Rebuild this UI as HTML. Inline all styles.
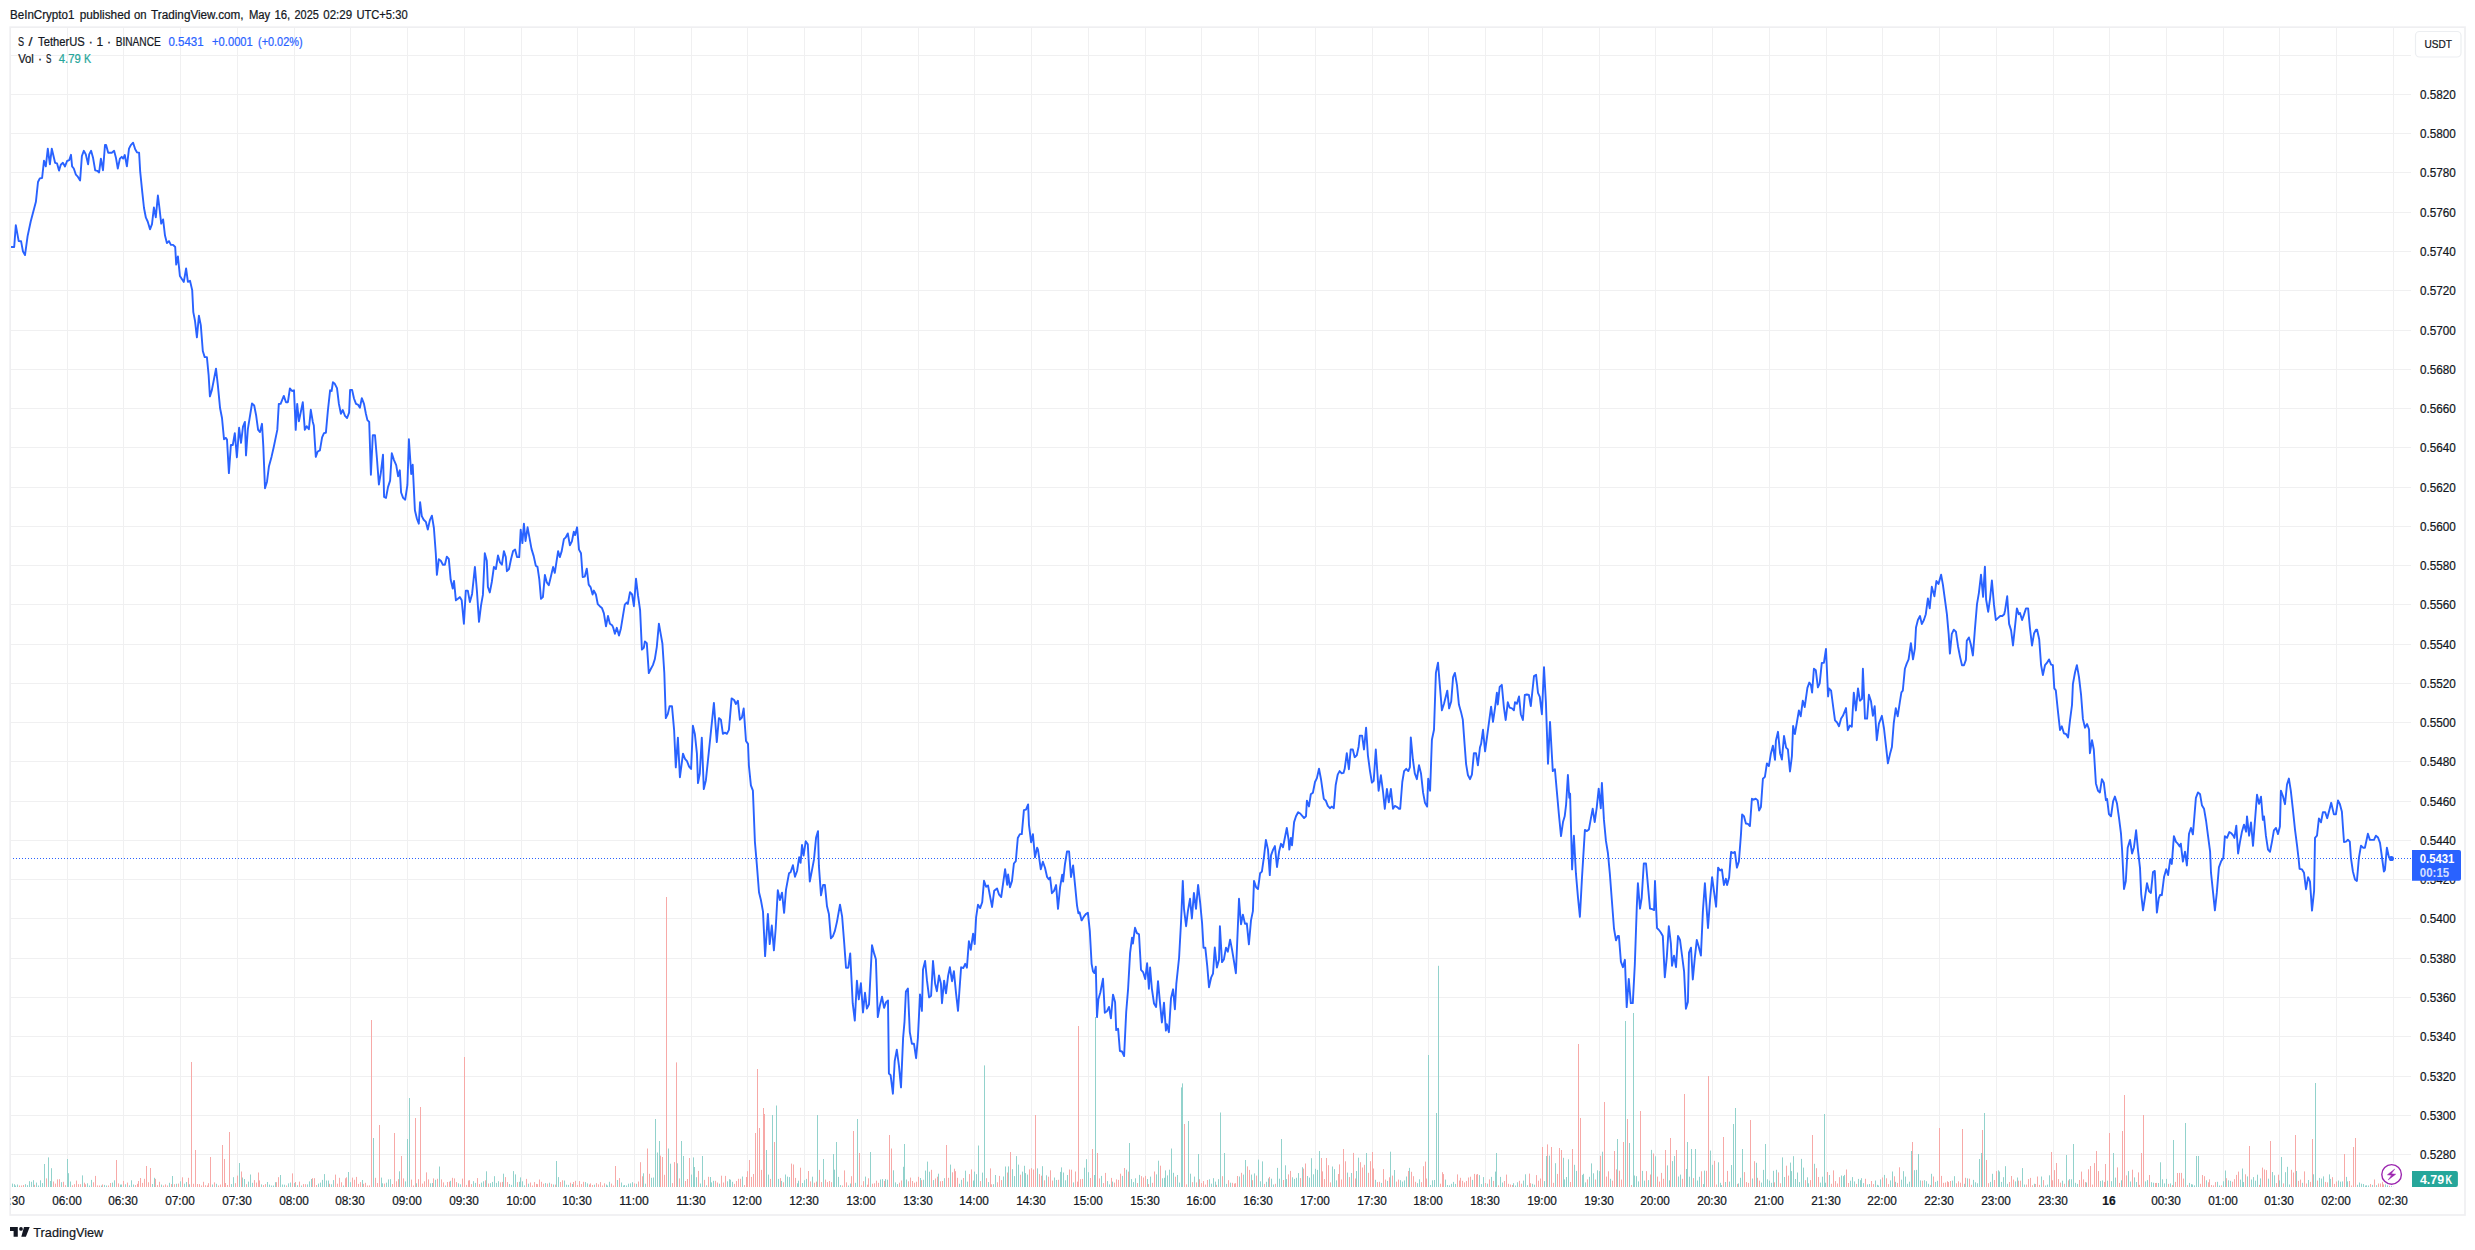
<!DOCTYPE html>
<html lang="en"><head><meta charset="utf-8"><title>S / TetherUS chart</title>
<style>html,body{margin:0;padding:0;background:#fff}body{width:2475px;height:1250px;overflow:hidden}svg{display:block}text{stroke:#131722;stroke-width:.22px}.b{stroke:#2962ff}.t{stroke:#26a69a}.w{stroke:none}</style>
</head><body>
<svg width="2475" height="1250" viewBox="0 0 2475 1250" font-family="&quot;Liberation Sans&quot;, sans-serif" font-size="12" fill="#131722">
<rect width="2475" height="1250" fill="#fff"/>
<text y="19"><tspan x="10" textLength="64.4" lengthAdjust="spacingAndGlyphs">BeInCrypto1</tspan> <tspan x="79.7" textLength="50.6" lengthAdjust="spacingAndGlyphs">published</tspan> <tspan x="134" textLength="12.6" lengthAdjust="spacingAndGlyphs">on</tspan> <tspan x="151.1" textLength="92.5" lengthAdjust="spacingAndGlyphs">TradingView.com,</tspan> <tspan x="248.9" textLength="21.3" lengthAdjust="spacingAndGlyphs">May</tspan> <tspan x="274.4" textLength="15.8" lengthAdjust="spacingAndGlyphs">16,</tspan> <tspan x="294.5" textLength="24.3" lengthAdjust="spacingAndGlyphs">2025</tspan> <tspan x="323.3" textLength="28.8" lengthAdjust="spacingAndGlyphs">02:29</tspan> <tspan x="356.4" textLength="51.2" lengthAdjust="spacingAndGlyphs">UTC+5:30</tspan></text>
<path d="M67.5 28V1187M123.5 28V1187M180.5 28V1187M237.5 28V1187M294.5 28V1187M350.5 28V1187M407.5 28V1187M464.5 28V1187M521.5 28V1187M577.5 28V1187M634.5 28V1187M691.5 28V1187M747.5 28V1187M804.5 28V1187M861.5 28V1187M918.5 28V1187M974.5 28V1187M1031.5 28V1187M1088.5 28V1187M1145.5 28V1187M1201.5 28V1187M1258.5 28V1187M1315.5 28V1187M1372.5 28V1187M1428.5 28V1187M1485.5 28V1187M1542.5 28V1187M1599.5 28V1187M1655.5 28V1187M1712.5 28V1187M1769.5 28V1187M1826.5 28V1187M1882.5 28V1187M1939.5 28V1187M1996.5 28V1187M2053.5 28V1187M2109.5 28V1187M2166.5 28V1187M2223.5 28V1187M2279.5 28V1187M2336.5 28V1187M2393.5 28V1187M11 55.5H2411M11 94.5H2411M11 133.5H2411M11 172.5H2411M11 212.5H2411M11 251.5H2411M11 290.5H2411M11 330.5H2411M11 369.5H2411M11 408.5H2411M11 447.5H2411M11 487.5H2411M11 526.5H2411M11 565.5H2411M11 604.5H2411M11 644.5H2411M11 683.5H2411M11 722.5H2411M11 761.5H2411M11 801.5H2411M11 840.5H2411M11 879.5H2411M11 918.5H2411M11 958.5H2411M11 997.5H2411M11 1036.5H2411M11 1076.5H2411M11 1115.5H2411M11 1154.5H2411" stroke="#f0f0f1" stroke-width="1" fill="none" shape-rendering="crispEdges"/>
<path d="M12.5 1187V1183.6M14.5 1187V1184.2M15.5 1187V1185.5M17.5 1187V1184.5M25.5 1187V1184.2M27.5 1187V1185.2M29.5 1187V1181.2M31.5 1187V1181.8M33.5 1187V1180.2M36.5 1187V1182.6M38.5 1187V1185.5M40.5 1187V1180.3M42.5 1187V1183.1M44.5 1187V1164.0M48.5 1187V1157.4M50.5 1187V1181.0M51.5 1187V1168.2M61.5 1187V1182.2M67.5 1187V1159.0M68.5 1187V1173.2M70.5 1187V1181.5M82.5 1187V1175.4M87.5 1187V1183.3M89.5 1187V1185.5M91.5 1187V1179.9M101.5 1187V1185.5M104.5 1187V1184.9M106.5 1187V1185.5M112.5 1187V1182.6M114.5 1187V1180.3M120.5 1187V1184.6M121.5 1187V1184.5M125.5 1187V1184.3M129.5 1187V1185.4M131.5 1187V1180.3M133.5 1187V1184.5M152.5 1187V1184.0M154.5 1187V1177.8M161.5 1187V1184.6M169.5 1187V1182.8M172.5 1187V1176.0M176.5 1187V1183.8M180.5 1187V1181.3M184.5 1187V1183.7M186.5 1187V1182.0M189.5 1187V1184.3M212.5 1187V1184.5M216.5 1187V1183.8M231.5 1187V1184.1M233.5 1187V1177.2M239.5 1187V1163.0M242.5 1187V1177.5M244.5 1187V1179.0M248.5 1187V1181.6M250.5 1187V1174.5M252.5 1187V1182.8M261.5 1187V1184.4M267.5 1187V1182.0M269.5 1187V1184.6M271.5 1187V1185.5M273.5 1187V1185.5M275.5 1187V1182.2M280.5 1187V1175.0M282.5 1187V1184.5M284.5 1187V1184.7M288.5 1187V1183.4M290.5 1187V1182.5M294.5 1187V1183.1M297.5 1187V1185.2M301.5 1187V1185.5M307.5 1187V1184.4M309.5 1187V1181.4M311.5 1187V1179.0M318.5 1187V1183.6M320.5 1187V1182.6M322.5 1187V1179.9M324.5 1187V1174.1M326.5 1187V1180.5M328.5 1187V1180.5M331.5 1187V1184.3M333.5 1187V1180.1M343.5 1187V1185.5M348.5 1187V1172.0M350.5 1187V1182.2M362.5 1187V1180.0M373.5 1187V1138.0M381.5 1187V1177.6M382.5 1187V1183.3M386.5 1187V1182.7M388.5 1187V1179.4M390.5 1187V1179.2M399.5 1187V1171.3M405.5 1187V1181.4M407.5 1187V1139.0M409.5 1187V1098.0M416.5 1187V1183.3M430.5 1187V1183.3M432.5 1187V1183.0M435.5 1187V1179.8M439.5 1187V1166.5M445.5 1187V1185.5M450.5 1187V1180.8M458.5 1187V1183.3M460.5 1187V1184.3M473.5 1187V1181.2M475.5 1187V1182.9M481.5 1187V1182.6M483.5 1187V1181.3M486.5 1187V1171.3M490.5 1187V1183.2M492.5 1187V1181.9M494.5 1187V1176.2M496.5 1187V1182.9M498.5 1187V1181.2M503.5 1187V1173.7M509.5 1187V1184.0M511.5 1187V1184.9M513.5 1187V1171.1M515.5 1187V1174.4M519.5 1187V1181.8M520.5 1187V1177.4M522.5 1187V1181.3M524.5 1187V1185.4M528.5 1187V1183.7M545.5 1187V1183.1M549.5 1187V1182.7M553.5 1187V1184.5M556.5 1187V1161.0M558.5 1187V1177.1M564.5 1187V1180.5M566.5 1187V1184.7M568.5 1187V1184.9M572.5 1187V1184.0M585.5 1187V1182.1M587.5 1187V1183.4M594.5 1187V1184.7M606.5 1187V1184.5M607.5 1187V1185.5M609.5 1187V1181.8M617.5 1187V1180.0M621.5 1187V1182.5M623.5 1187V1185.5M624.5 1187V1185.0M626.5 1187V1185.5M628.5 1187V1183.7M630.5 1187V1183.4M632.5 1187V1182.2M636.5 1187V1183.8M643.5 1187V1173.3M645.5 1187V1183.7M651.5 1187V1177.8M653.5 1187V1177.5M655.5 1187V1119.0M657.5 1187V1152.5M659.5 1187V1141.0M668.5 1187V1148.5M670.5 1187V1163.7M677.5 1187V1163.3M681.5 1187V1141.0M683.5 1187V1156.0M691.5 1187V1174.6M693.5 1187V1157.4M694.5 1187V1167.0M696.5 1187V1177.2M700.5 1187V1183.5M702.5 1187V1156.0M706.5 1187V1185.3M710.5 1187V1177.0M711.5 1187V1182.4M713.5 1187V1180.8M719.5 1187V1183.7M727.5 1187V1181.3M729.5 1187V1179.2M730.5 1187V1179.7M732.5 1187V1181.8M742.5 1187V1176.5M766.5 1187V1150.0M768.5 1187V1174.6M772.5 1187V1115.0M776.5 1187V1105.5M778.5 1187V1178.9M781.5 1187V1180.9M785.5 1187V1174.5M787.5 1187V1176.6M789.5 1187V1177.1M797.5 1187V1183.3M798.5 1187V1180.7M802.5 1187V1183.0M804.5 1187V1180.2M806.5 1187V1178.9M812.5 1187V1176.7M817.5 1187V1115.0M823.5 1187V1159.0M833.5 1187V1154.0M834.5 1187V1169.7M836.5 1187V1142.0M838.5 1187V1176.9M840.5 1187V1185.1M848.5 1187V1185.5M850.5 1187V1183.5M855.5 1187V1182.8M857.5 1187V1119.0M865.5 1187V1176.6M870.5 1187V1152.0M880.5 1187V1179.5M882.5 1187V1179.1M885.5 1187V1179.1M887.5 1187V1179.7M893.5 1187V1170.3M895.5 1187V1182.4M897.5 1187V1184.1M903.5 1187V1166.8M904.5 1187V1144.0M906.5 1187V1179.5M920.5 1187V1178.0M923.5 1187V1179.8M925.5 1187V1170.6M927.5 1187V1161.6M929.5 1187V1171.7M933.5 1187V1180.1M938.5 1187V1173.7M944.5 1187V1178.2M950.5 1187V1164.6M959.5 1187V1183.8M961.5 1187V1179.8M965.5 1187V1170.7M967.5 1187V1181.6M973.5 1187V1180.5M974.5 1187V1171.6M976.5 1187V1174.2M978.5 1187V1145.5M982.5 1187V1172.6M984.5 1187V1065.4M988.5 1187V1182.1M993.5 1187V1184.2M995.5 1187V1175.0M1003.5 1187V1176.5M1005.5 1187V1166.5M1008.5 1187V1166.4M1012.5 1187V1169.2M1014.5 1187V1176.1M1016.5 1187V1156.1M1018.5 1187V1164.6M1022.5 1187V1171.6M1024.5 1187V1165.8M1025.5 1187V1173.1M1027.5 1187V1174.6M1037.5 1187V1168.4M1042.5 1187V1166.2M1046.5 1187V1175.3M1054.5 1187V1177.5M1056.5 1187V1180.0M1060.5 1187V1171.9M1061.5 1187V1167.4M1063.5 1187V1172.5M1065.5 1187V1180.3M1067.5 1187V1175.0M1073.5 1187V1182.4M1084.5 1187V1167.7M1086.5 1187V1159.2M1088.5 1187V1172.2M1094.5 1187V1175.0M1095.5 1187V1017.0M1101.5 1187V1175.9M1107.5 1187V1181.1M1109.5 1187V1184.4M1112.5 1187V1181.6M1122.5 1187V1175.9M1126.5 1187V1169.7M1129.5 1187V1143.0M1131.5 1187V1179.1M1133.5 1187V1182.1M1135.5 1187V1178.3M1139.5 1187V1174.9M1147.5 1187V1179.0M1150.5 1187V1176.6M1156.5 1187V1174.4M1158.5 1187V1160.7M1162.5 1187V1178.3M1164.5 1187V1177.8M1165.5 1187V1170.4M1167.5 1187V1175.4M1169.5 1187V1169.7M1171.5 1187V1148.5M1173.5 1187V1172.8M1177.5 1187V1175.0M1179.5 1187V1182.6M1181.5 1187V1087.4M1182.5 1187V1083.4M1188.5 1187V1121.0M1190.5 1187V1173.7M1194.5 1187V1176.6M1198.5 1187V1154.0M1209.5 1187V1179.3M1211.5 1187V1183.7M1213.5 1187V1178.2M1215.5 1187V1181.6M1218.5 1187V1179.2M1220.5 1187V1112.5M1224.5 1187V1153.0M1226.5 1187V1183.9M1230.5 1187V1182.7M1239.5 1187V1176.5M1243.5 1187V1174.6M1245.5 1187V1160.0M1251.5 1187V1174.6M1254.5 1187V1173.4M1258.5 1187V1159.6M1260.5 1187V1181.3M1262.5 1187V1161.4M1266.5 1187V1181.8M1268.5 1187V1178.4M1271.5 1187V1178.7M1273.5 1187V1184.5M1277.5 1187V1167.9M1279.5 1187V1178.7M1281.5 1187V1139.0M1285.5 1187V1165.3M1286.5 1187V1179.1M1292.5 1187V1177.3M1294.5 1187V1178.9M1296.5 1187V1177.8M1298.5 1187V1173.1M1302.5 1187V1167.2M1307.5 1187V1176.0M1309.5 1187V1177.6M1311.5 1187V1158.2M1313.5 1187V1174.3M1315.5 1187V1168.8M1317.5 1187V1169.9M1319.5 1187V1151.0M1332.5 1187V1166.5M1334.5 1187V1169.1M1336.5 1187V1180.4M1347.5 1187V1172.6M1351.5 1187V1173.0M1356.5 1187V1171.0M1358.5 1187V1157.7M1366.5 1187V1153.0M1375.5 1187V1179.8M1381.5 1187V1182.9M1387.5 1187V1180.9M1390.5 1187V1151.7M1394.5 1187V1170.0M1400.5 1187V1180.2M1402.5 1187V1181.6M1404.5 1187V1180.4M1406.5 1187V1176.5M1409.5 1187V1167.9M1417.5 1187V1183.2M1419.5 1187V1179.3M1428.5 1187V1055.0M1430.5 1187V1185.0M1432.5 1187V1180.3M1434.5 1187V1180.0M1436.5 1187V1113.0M1438.5 1187V965.8M1445.5 1187V1179.6M1447.5 1187V1185.0M1449.5 1187V1185.4M1451.5 1187V1183.8M1453.5 1187V1181.9M1455.5 1187V1183.9M1472.5 1187V1179.9M1479.5 1187V1175.1M1481.5 1187V1184.1M1483.5 1187V1177.1M1487.5 1187V1183.7M1491.5 1187V1176.9M1495.5 1187V1171.6M1496.5 1187V1153.0M1500.5 1187V1176.9M1502.5 1187V1182.5M1513.5 1187V1183.2M1515.5 1187V1185.5M1517.5 1187V1182.3M1523.5 1187V1180.6M1525.5 1187V1174.3M1527.5 1187V1185.2M1532.5 1187V1183.8M1534.5 1187V1184.7M1544.5 1187V1181.1M1546.5 1187V1156.0M1549.5 1187V1155.6M1555.5 1187V1163.2M1563.5 1187V1157.8M1564.5 1187V1179.4M1566.5 1187V1177.0M1568.5 1187V1159.3M1574.5 1187V1164.8M1576.5 1187V1170.9M1582.5 1187V1174.9M1583.5 1187V1173.8M1585.5 1187V1182.4M1589.5 1187V1176.8M1591.5 1187V1163.4M1593.5 1187V1173.3M1597.5 1187V1170.3M1599.5 1187V1171.1M1602.5 1187V1151.7M1610.5 1187V1178.8M1617.5 1187V1139.0M1625.5 1187V1021.0M1629.5 1187V1143.0M1633.5 1187V1013.0M1634.5 1187V1175.5M1636.5 1187V1176.2M1638.5 1187V1181.4M1642.5 1187V1170.9M1644.5 1187V1180.6M1648.5 1187V1180.1M1651.5 1187V1149.9M1655.5 1187V1156.3M1667.5 1187V1165.4M1669.5 1187V1180.3M1672.5 1187V1161.1M1674.5 1187V1156.0M1678.5 1187V1176.5M1680.5 1187V1174.6M1686.5 1187V1169.0M1687.5 1187V1142.0M1689.5 1187V1176.7M1691.5 1187V1149.0M1695.5 1187V1149.0M1697.5 1187V1180.5M1699.5 1187V1176.8M1703.5 1187V1184.1M1704.5 1187V1170.6M1710.5 1187V1150.6M1712.5 1187V1164.8M1718.5 1187V1162.3M1720.5 1187V1182.8M1721.5 1187V1185.1M1725.5 1187V1182.0M1729.5 1187V1181.6M1731.5 1187V1165.0M1733.5 1187V1124.0M1735.5 1187V1108.0M1738.5 1187V1183.4M1740.5 1187V1177.8M1742.5 1187V1149.0M1752.5 1187V1178.5M1756.5 1187V1162.8M1761.5 1187V1182.6M1763.5 1187V1169.9M1765.5 1187V1144.0M1767.5 1187V1179.3M1769.5 1187V1180.6M1771.5 1187V1182.8M1773.5 1187V1170.8M1776.5 1187V1169.8M1782.5 1187V1157.4M1784.5 1187V1177.0M1790.5 1187V1162.6M1791.5 1187V1171.1M1793.5 1187V1156.2M1795.5 1187V1179.0M1797.5 1187V1172.5M1799.5 1187V1182.1M1801.5 1187V1158.9M1803.5 1187V1167.6M1807.5 1187V1177.3M1808.5 1187V1183.3M1814.5 1187V1163.8M1820.5 1187V1182.6M1822.5 1187V1176.7M1824.5 1187V1114.0M1825.5 1187V1182.7M1829.5 1187V1175.0M1841.5 1187V1175.5M1843.5 1187V1176.1M1844.5 1187V1174.9M1850.5 1187V1180.7M1852.5 1187V1177.1M1854.5 1187V1181.4M1858.5 1187V1178.9M1860.5 1187V1180.2M1861.5 1187V1178.2M1863.5 1187V1183.1M1867.5 1187V1184.4M1869.5 1187V1184.0M1875.5 1187V1180.5M1877.5 1187V1184.8M1878.5 1187V1185.5M1880.5 1187V1179.4M1884.5 1187V1174.9M1890.5 1187V1180.4M1892.5 1187V1171.5M1895.5 1187V1181.8M1901.5 1187V1179.7M1903.5 1187V1171.2M1905.5 1187V1176.6M1907.5 1187V1183.8M1909.5 1187V1181.7M1911.5 1187V1151.0M1914.5 1187V1170.2M1916.5 1187V1169.9M1918.5 1187V1154.0M1920.5 1187V1180.4M1924.5 1187V1180.2M1926.5 1187V1181.2M1928.5 1187V1183.8M1931.5 1187V1173.8M1935.5 1187V1181.9M1937.5 1187V1180.8M1952.5 1187V1180.6M1954.5 1187V1176.2M1964.5 1187V1183.8M1967.5 1187V1178.4M1973.5 1187V1179.9M1975.5 1187V1182.3M1977.5 1187V1183.3M1979.5 1187V1159.0M1981.5 1187V1153.0M1984.5 1187V1113.0M1990.5 1187V1181.9M1992.5 1187V1173.8M1998.5 1187V1170.3M1999.5 1187V1171.5M2001.5 1187V1181.9M2003.5 1187V1177.2M2005.5 1187V1166.2M2007.5 1187V1183.8M2015.5 1187V1181.4M2017.5 1187V1177.5M2022.5 1187V1168.1M2024.5 1187V1184.5M2034.5 1187V1183.7M2041.5 1187V1176.5M2045.5 1187V1185.5M2047.5 1187V1184.6M2049.5 1187V1175.3M2062.5 1187V1180.7M2066.5 1187V1155.0M2069.5 1187V1179.1M2071.5 1187V1179.3M2073.5 1187V1144.0M2075.5 1187V1182.8M2077.5 1187V1183.9M2086.5 1187V1182.5M2100.5 1187V1180.9M2102.5 1187V1180.4M2107.5 1187V1180.7M2111.5 1187V1181.2M2113.5 1187V1153.0M2115.5 1187V1177.6M2121.5 1187V1180.3M2128.5 1187V1171.1M2130.5 1187V1181.5M2134.5 1187V1177.4M2136.5 1187V1182.0M2145.5 1187V1181.4M2147.5 1187V1180.1M2151.5 1187V1182.2M2153.5 1187V1182.7M2158.5 1187V1183.0M2160.5 1187V1162.3M2162.5 1187V1179.3M2164.5 1187V1183.4M2166.5 1187V1178.9M2170.5 1187V1183.4M2173.5 1187V1140.0M2185.5 1187V1123.0M2189.5 1187V1182.9M2191.5 1187V1184.2M2192.5 1187V1184.5M2194.5 1187V1185.4M2196.5 1187V1156.0M2198.5 1187V1156.0M2206.5 1187V1180.3M2217.5 1187V1181.8M2219.5 1187V1185.5M2223.5 1187V1181.3M2225.5 1187V1170.5M2228.5 1187V1180.3M2230.5 1187V1180.8M2240.5 1187V1179.6M2242.5 1187V1168.5M2243.5 1187V1182.0M2247.5 1187V1176.4M2251.5 1187V1179.5M2253.5 1187V1177.1M2255.5 1187V1180.7M2257.5 1187V1174.7M2260.5 1187V1178.4M2268.5 1187V1178.7M2272.5 1187V1172.0M2274.5 1187V1175.3M2279.5 1187V1180.4M2281.5 1187V1157.0M2285.5 1187V1172.2M2287.5 1187V1166.8M2289.5 1187V1184.5M2296.5 1187V1171.0M2302.5 1187V1182.8M2308.5 1187V1180.0M2313.5 1187V1174.3M2315.5 1187V1083.0M2319.5 1187V1177.9M2321.5 1187V1178.6M2323.5 1187V1176.4M2329.5 1187V1174.4M2330.5 1187V1178.9M2338.5 1187V1180.5M2340.5 1187V1181.7M2342.5 1187V1181.4M2346.5 1187V1176.9M2347.5 1187V1181.4M2357.5 1187V1184.8M2359.5 1187V1182.5M2361.5 1187V1183.7M2363.5 1187V1184.0M2365.5 1187V1185.5M2366.5 1187V1185.3M2368.5 1187V1185.5M2372.5 1187V1184.9M2376.5 1187V1185.2M2385.5 1187V1179.9M2387.5 1187V1183.4M2391.5 1187V1185.0" stroke="#92d2cc" stroke-width="1" fill="none"/>
<path d="M19.5 1187V1185.5M21.5 1187V1185.5M23.5 1187V1185.0M34.5 1187V1184.8M46.5 1187V1178.4M53.5 1187V1181.5M55.5 1187V1183.6M57.5 1187V1179.4M59.5 1187V1179.2M63.5 1187V1181.8M65.5 1187V1185.2M72.5 1187V1185.3M74.5 1187V1184.2M76.5 1187V1180.6M78.5 1187V1184.2M80.5 1187V1184.2M84.5 1187V1182.7M85.5 1187V1184.3M93.5 1187V1182.3M95.5 1187V1175.9M97.5 1187V1185.4M99.5 1187V1185.5M102.5 1187V1184.4M108.5 1187V1185.5M110.5 1187V1183.0M116.5 1187V1160.0M118.5 1187V1183.4M123.5 1187V1180.9M127.5 1187V1182.6M135.5 1187V1185.0M137.5 1187V1183.8M138.5 1187V1181.0M140.5 1187V1178.0M142.5 1187V1182.9M144.5 1187V1178.8M146.5 1187V1166.0M148.5 1187V1182.3M150.5 1187V1168.0M155.5 1187V1178.9M157.5 1187V1185.1M159.5 1187V1181.8M163.5 1187V1185.5M165.5 1187V1184.4M167.5 1187V1185.5M171.5 1187V1184.1M174.5 1187V1184.2M178.5 1187V1183.6M182.5 1187V1177.3M188.5 1187V1177.8M191.5 1187V1062.0M193.5 1187V1183.8M195.5 1187V1150.0M197.5 1187V1184.0M199.5 1187V1184.1M201.5 1187V1185.5M203.5 1187V1181.8M205.5 1187V1185.2M207.5 1187V1185.5M208.5 1187V1183.2M210.5 1187V1157.0M214.5 1187V1182.4M218.5 1187V1185.5M220.5 1187V1184.5M222.5 1187V1145.0M224.5 1187V1159.0M225.5 1187V1183.0M227.5 1187V1185.0M229.5 1187V1132.0M235.5 1187V1183.2M237.5 1187V1175.6M241.5 1187V1171.5M246.5 1187V1184.2M254.5 1187V1180.1M256.5 1187V1182.6M258.5 1187V1172.5M259.5 1187V1180.4M263.5 1187V1185.1M265.5 1187V1184.1M276.5 1187V1182.2M278.5 1187V1177.2M286.5 1187V1185.5M292.5 1187V1173.4M295.5 1187V1182.0M299.5 1187V1181.6M303.5 1187V1184.1M305.5 1187V1184.2M312.5 1187V1178.2M314.5 1187V1178.2M316.5 1187V1185.0M329.5 1187V1183.8M335.5 1187V1174.6M337.5 1187V1183.7M339.5 1187V1177.8M341.5 1187V1182.3M345.5 1187V1178.3M346.5 1187V1177.3M352.5 1187V1177.6M354.5 1187V1179.8M356.5 1187V1176.9M358.5 1187V1183.9M360.5 1187V1182.1M363.5 1187V1183.8M365.5 1187V1182.8M367.5 1187V1185.5M369.5 1187V1185.4M371.5 1187V1020.0M375.5 1187V1177.8M377.5 1187V1183.0M379.5 1187V1125.0M384.5 1187V1183.6M392.5 1187V1184.0M394.5 1187V1133.0M396.5 1187V1181.3M398.5 1187V1179.2M401.5 1187V1156.0M403.5 1187V1178.4M411.5 1187V1179.6M413.5 1187V1185.5M415.5 1187V1118.0M418.5 1187V1179.2M420.5 1187V1107.0M422.5 1187V1183.6M424.5 1187V1181.3M426.5 1187V1172.4M428.5 1187V1179.4M433.5 1187V1178.4M437.5 1187V1178.8M441.5 1187V1179.4M443.5 1187V1182.4M447.5 1187V1182.0M449.5 1187V1181.7M452.5 1187V1177.8M454.5 1187V1178.4M456.5 1187V1182.1M462.5 1187V1178.6M464.5 1187V1057.0M466.5 1187V1184.9M468.5 1187V1180.5M469.5 1187V1180.2M471.5 1187V1184.1M477.5 1187V1178.1M479.5 1187V1184.1M485.5 1187V1180.3M488.5 1187V1183.5M500.5 1187V1182.4M502.5 1187V1181.9M505.5 1187V1177.1M507.5 1187V1182.1M517.5 1187V1182.2M526.5 1187V1178.9M530.5 1187V1182.5M532.5 1187V1185.5M534.5 1187V1182.1M536.5 1187V1183.9M537.5 1187V1184.2M539.5 1187V1179.5M541.5 1187V1181.8M543.5 1187V1183.7M547.5 1187V1183.6M551.5 1187V1183.8M555.5 1187V1184.6M560.5 1187V1182.0M562.5 1187V1180.3M570.5 1187V1182.7M573.5 1187V1182.0M575.5 1187V1180.8M577.5 1187V1185.0M579.5 1187V1181.1M581.5 1187V1184.1M583.5 1187V1181.8M589.5 1187V1184.5M590.5 1187V1183.4M592.5 1187V1185.0M596.5 1187V1183.1M598.5 1187V1184.4M600.5 1187V1182.1M602.5 1187V1185.5M604.5 1187V1183.3M611.5 1187V1183.6M613.5 1187V1185.5M615.5 1187V1166.0M619.5 1187V1178.1M634.5 1187V1183.4M638.5 1187V1181.5M640.5 1187V1162.2M642.5 1187V1176.3M647.5 1187V1148.5M649.5 1187V1173.8M660.5 1187V1155.6M662.5 1187V1157.0M664.5 1187V1174.8M666.5 1187V897.0M672.5 1187V1183.1M674.5 1187V1162.1M676.5 1187V1062.4M679.5 1187V1178.4M685.5 1187V1181.0M687.5 1187V1179.0M689.5 1187V1158.0M698.5 1187V1170.9M704.5 1187V1179.9M708.5 1187V1176.8M715.5 1187V1180.8M717.5 1187V1182.5M721.5 1187V1175.7M723.5 1187V1182.5M725.5 1187V1175.9M734.5 1187V1183.9M736.5 1187V1181.0M738.5 1187V1178.8M740.5 1187V1178.8M744.5 1187V1185.1M746.5 1187V1177.0M747.5 1187V1171.2M749.5 1187V1160.0M751.5 1187V1176.9M753.5 1187V1174.0M755.5 1187V1133.0M757.5 1187V1069.0M759.5 1187V1128.0M761.5 1187V1169.9M763.5 1187V1108.0M764.5 1187V1114.0M770.5 1187V1178.9M774.5 1187V1142.0M780.5 1187V1178.1M783.5 1187V1182.3M791.5 1187V1163.6M793.5 1187V1164.5M795.5 1187V1177.9M800.5 1187V1167.7M808.5 1187V1171.0M810.5 1187V1181.4M814.5 1187V1182.7M816.5 1187V1181.6M819.5 1187V1169.9M821.5 1187V1182.1M825.5 1187V1179.6M827.5 1187V1182.1M829.5 1187V1181.0M831.5 1187V1182.2M842.5 1187V1185.5M844.5 1187V1170.4M846.5 1187V1182.4M851.5 1187V1176.2M853.5 1187V1131.0M859.5 1187V1153.0M861.5 1187V1185.3M863.5 1187V1181.2M867.5 1187V1184.7M868.5 1187V1178.3M872.5 1187V1183.7M874.5 1187V1183.3M876.5 1187V1180.7M878.5 1187V1182.8M884.5 1187V1180.9M889.5 1187V1135.0M891.5 1187V1148.5M899.5 1187V1182.7M901.5 1187V1180.5M908.5 1187V1181.3M910.5 1187V1177.6M912.5 1187V1181.0M914.5 1187V1182.7M916.5 1187V1181.7M918.5 1187V1176.8M921.5 1187V1180.2M931.5 1187V1169.8M935.5 1187V1178.5M937.5 1187V1176.7M940.5 1187V1181.3M942.5 1187V1181.0M946.5 1187V1145.0M948.5 1187V1177.8M952.5 1187V1172.3M954.5 1187V1168.7M955.5 1187V1171.2M957.5 1187V1177.8M963.5 1187V1178.0M969.5 1187V1174.1M971.5 1187V1169.4M980.5 1187V1181.1M986.5 1187V1178.2M990.5 1187V1168.4M991.5 1187V1184.3M997.5 1187V1182.3M999.5 1187V1175.9M1001.5 1187V1180.1M1007.5 1187V1172.5M1010.5 1187V1152.0M1020.5 1187V1174.7M1029.5 1187V1169.4M1031.5 1187V1168.2M1033.5 1187V1169.5M1035.5 1187V1115.0M1039.5 1187V1174.1M1041.5 1187V1175.7M1044.5 1187V1180.3M1048.5 1187V1176.7M1050.5 1187V1170.3M1052.5 1187V1180.6M1058.5 1187V1179.8M1069.5 1187V1169.5M1071.5 1187V1169.7M1075.5 1187V1171.5M1077.5 1187V1181.6M1078.5 1187V1026.0M1080.5 1187V1179.2M1082.5 1187V1178.9M1090.5 1187V1178.0M1092.5 1187V1149.0M1097.5 1187V1153.0M1099.5 1187V1178.4M1103.5 1187V1183.1M1105.5 1187V1172.9M1111.5 1187V1177.9M1114.5 1187V1182.6M1116.5 1187V1179.4M1118.5 1187V1179.9M1120.5 1187V1173.7M1124.5 1187V1168.0M1128.5 1187V1171.6M1137.5 1187V1183.0M1141.5 1187V1176.1M1143.5 1187V1177.5M1145.5 1187V1175.9M1148.5 1187V1184.1M1152.5 1187V1182.8M1154.5 1187V1171.5M1160.5 1187V1165.7M1175.5 1187V1176.7M1184.5 1187V1124.0M1186.5 1187V1184.4M1192.5 1187V1182.2M1196.5 1187V1182.4M1199.5 1187V1179.2M1201.5 1187V1183.1M1203.5 1187V1181.1M1205.5 1187V1184.6M1207.5 1187V1180.0M1216.5 1187V1184.8M1222.5 1187V1176.2M1228.5 1187V1180.2M1232.5 1187V1182.8M1234.5 1187V1183.6M1235.5 1187V1183.2M1237.5 1187V1176.0M1241.5 1187V1172.8M1247.5 1187V1166.4M1249.5 1187V1169.9M1252.5 1187V1180.2M1256.5 1187V1175.6M1264.5 1187V1183.9M1269.5 1187V1176.9M1275.5 1187V1183.8M1283.5 1187V1180.0M1288.5 1187V1174.4M1290.5 1187V1170.9M1300.5 1187V1178.1M1303.5 1187V1168.6M1305.5 1187V1163.5M1321.5 1187V1158.0M1322.5 1187V1171.4M1324.5 1187V1179.1M1326.5 1187V1158.0M1328.5 1187V1165.2M1330.5 1187V1182.4M1338.5 1187V1174.0M1339.5 1187V1164.4M1341.5 1187V1179.5M1343.5 1187V1149.0M1345.5 1187V1161.3M1349.5 1187V1177.1M1353.5 1187V1152.9M1355.5 1187V1178.5M1360.5 1187V1162.2M1362.5 1187V1167.5M1364.5 1187V1164.8M1368.5 1187V1172.8M1370.5 1187V1161.2M1372.5 1187V1152.0M1373.5 1187V1168.5M1377.5 1187V1182.1M1379.5 1187V1181.8M1383.5 1187V1169.1M1385.5 1187V1179.6M1389.5 1187V1177.3M1392.5 1187V1175.6M1396.5 1187V1181.6M1398.5 1187V1179.6M1408.5 1187V1171.0M1411.5 1187V1171.8M1413.5 1187V1176.2M1415.5 1187V1181.8M1421.5 1187V1182.2M1423.5 1187V1166.2M1425.5 1187V1161.6M1426.5 1187V1178.5M1440.5 1187V1183.7M1442.5 1187V1172.2M1443.5 1187V1174.1M1457.5 1187V1174.4M1459.5 1187V1180.5M1460.5 1187V1177.8M1462.5 1187V1180.8M1464.5 1187V1182.4M1466.5 1187V1181.0M1468.5 1187V1177.5M1470.5 1187V1176.7M1474.5 1187V1173.9M1476.5 1187V1174.6M1477.5 1187V1174.0M1485.5 1187V1183.0M1489.5 1187V1179.4M1493.5 1187V1180.9M1498.5 1187V1185.4M1504.5 1187V1181.0M1506.5 1187V1174.6M1508.5 1187V1183.8M1510.5 1187V1184.5M1512.5 1187V1185.0M1519.5 1187V1180.8M1521.5 1187V1183.7M1529.5 1187V1173.6M1530.5 1187V1183.2M1536.5 1187V1175.1M1538.5 1187V1180.7M1540.5 1187V1178.5M1542.5 1187V1147.0M1547.5 1187V1144.4M1551.5 1187V1147.0M1553.5 1187V1182.8M1557.5 1187V1173.9M1559.5 1187V1148.0M1561.5 1187V1150.0M1570.5 1187V1182.0M1572.5 1187V1149.0M1578.5 1187V1044.0M1580.5 1187V1118.0M1587.5 1187V1179.4M1595.5 1187V1179.5M1600.5 1187V1155.8M1604.5 1187V1102.0M1606.5 1187V1176.6M1608.5 1187V1171.3M1612.5 1187V1180.7M1614.5 1187V1151.0M1616.5 1187V1169.4M1619.5 1187V1170.7M1621.5 1187V1179.6M1623.5 1187V1142.0M1627.5 1187V1119.0M1631.5 1187V1185.0M1640.5 1187V1111.0M1646.5 1187V1171.1M1650.5 1187V1174.5M1653.5 1187V1153.5M1657.5 1187V1176.6M1659.5 1187V1181.6M1661.5 1187V1172.9M1663.5 1187V1178.8M1665.5 1187V1150.0M1670.5 1187V1138.0M1676.5 1187V1150.0M1682.5 1187V1178.8M1684.5 1187V1094.0M1693.5 1187V1178.1M1701.5 1187V1171.3M1706.5 1187V1170.8M1708.5 1187V1076.0M1714.5 1187V1160.8M1716.5 1187V1184.5M1723.5 1187V1137.0M1727.5 1187V1170.9M1737.5 1187V1183.9M1744.5 1187V1172.1M1746.5 1187V1182.1M1748.5 1187V1182.9M1750.5 1187V1120.0M1754.5 1187V1161.2M1757.5 1187V1177.8M1759.5 1187V1180.6M1774.5 1187V1182.3M1778.5 1187V1172.4M1780.5 1187V1183.3M1786.5 1187V1165.7M1788.5 1187V1175.6M1805.5 1187V1180.2M1810.5 1187V1180.1M1812.5 1187V1135.0M1816.5 1187V1168.2M1818.5 1187V1177.0M1827.5 1187V1172.0M1831.5 1187V1183.8M1833.5 1187V1170.4M1835.5 1187V1181.1M1837.5 1187V1183.5M1839.5 1187V1177.2M1846.5 1187V1169.5M1848.5 1187V1183.0M1856.5 1187V1183.9M1865.5 1187V1178.8M1871.5 1187V1181.0M1873.5 1187V1184.1M1882.5 1187V1177.5M1886.5 1187V1178.3M1888.5 1187V1184.1M1894.5 1187V1176.3M1897.5 1187V1182.9M1899.5 1187V1167.3M1912.5 1187V1142.0M1922.5 1187V1180.7M1930.5 1187V1185.2M1933.5 1187V1176.5M1939.5 1187V1128.0M1941.5 1187V1175.9M1943.5 1187V1182.8M1945.5 1187V1182.5M1947.5 1187V1181.2M1948.5 1187V1182.1M1950.5 1187V1181.0M1956.5 1187V1183.3M1958.5 1187V1181.3M1960.5 1187V1182.7M1962.5 1187V1129.0M1965.5 1187V1177.8M1969.5 1187V1178.7M1971.5 1187V1184.8M1982.5 1187V1130.0M1986.5 1187V1160.0M1988.5 1187V1183.2M1994.5 1187V1180.0M1996.5 1187V1171.1M2009.5 1187V1182.0M2011.5 1187V1176.0M2013.5 1187V1179.6M2018.5 1187V1180.7M2020.5 1187V1180.7M2026.5 1187V1184.6M2028.5 1187V1179.1M2030.5 1187V1177.9M2032.5 1187V1185.3M2035.5 1187V1184.0M2037.5 1187V1176.5M2039.5 1187V1184.9M2043.5 1187V1180.1M2051.5 1187V1152.0M2052.5 1187V1180.3M2054.5 1187V1170.1M2056.5 1187V1163.0M2058.5 1187V1179.1M2060.5 1187V1182.6M2064.5 1187V1183.8M2068.5 1187V1180.4M2079.5 1187V1180.0M2081.5 1187V1171.6M2083.5 1187V1179.4M2085.5 1187V1182.1M2088.5 1187V1169.3M2090.5 1187V1166.0M2092.5 1187V1184.6M2094.5 1187V1163.1M2096.5 1187V1151.0M2098.5 1187V1171.1M2104.5 1187V1181.9M2105.5 1187V1164.0M2109.5 1187V1133.0M2117.5 1187V1167.4M2119.5 1187V1182.9M2122.5 1187V1131.0M2124.5 1187V1095.0M2126.5 1187V1175.4M2132.5 1187V1169.7M2138.5 1187V1172.4M2139.5 1187V1184.9M2141.5 1187V1153.0M2143.5 1187V1115.0M2149.5 1187V1175.0M2155.5 1187V1183.0M2156.5 1187V1182.9M2168.5 1187V1183.9M2172.5 1187V1185.1M2175.5 1187V1181.9M2177.5 1187V1173.0M2179.5 1187V1172.9M2181.5 1187V1172.9M2183.5 1187V1178.6M2187.5 1187V1185.2M2200.5 1187V1183.8M2202.5 1187V1175.0M2204.5 1187V1176.2M2208.5 1187V1182.3M2209.5 1187V1179.3M2211.5 1187V1185.0M2213.5 1187V1185.4M2215.5 1187V1182.1M2221.5 1187V1185.4M2226.5 1187V1178.2M2232.5 1187V1181.7M2234.5 1187V1179.2M2236.5 1187V1174.9M2238.5 1187V1171.6M2245.5 1187V1174.3M2249.5 1187V1146.0M2259.5 1187V1184.9M2262.5 1187V1167.6M2264.5 1187V1169.5M2266.5 1187V1170.1M2270.5 1187V1141.0M2276.5 1187V1183.1M2278.5 1187V1174.7M2283.5 1187V1183.4M2291.5 1187V1169.8M2293.5 1187V1172.5M2295.5 1187V1135.0M2298.5 1187V1180.9M2300.5 1187V1179.6M2304.5 1187V1171.4M2306.5 1187V1183.5M2310.5 1187V1181.9M2312.5 1187V1139.0M2317.5 1187V1180.6M2325.5 1187V1181.9M2327.5 1187V1182.4M2332.5 1187V1177.2M2334.5 1187V1183.9M2336.5 1187V1181.5M2344.5 1187V1154.0M2349.5 1187V1181.0M2351.5 1187V1185.5M2353.5 1187V1147.0M2355.5 1187V1138.0M2370.5 1187V1184.0M2374.5 1187V1179.5M2378.5 1187V1183.5M2380.5 1187V1183.5M2382.5 1187V1181.7M2383.5 1187V1184.4M2389.5 1187V1179.3" stroke="#f7a9a7" stroke-width="1" fill="none"/>
<path d="M10 858.5H2411" stroke="#2962ff" stroke-width="1" stroke-dasharray="1 2" fill="none" shape-rendering="crispEdges"/>
<clipPath id="p"><rect x="11" y="28" width="2400" height="1159"/></clipPath>
<path clip-path="url(#p)" d="M10.4 247.0L14.2 247.0L15.8 225.2L18.7 241.1L21.1 241.3L22.9 251.2L25.0 255.1L27.6 236.1L30.7 221.5L35.9 201.8L38.0 182.0L39.8 178.4L42.1 178.0L44.0 160.7L45.8 166.4L47.8 148.7L49.9 164.3L51.8 148.7L55.1 162.8L57.0 163.3L59.0 170.6L60.8 164.8L62.9 162.8L65.0 166.4L67.1 161.0L69.2 160.2L71.0 154.8L72.1 166.4L73.8 168.5L75.9 174.7L77.5 176.3L80.1 180.4L81.9 156.0L83.8 150.8L85.8 154.4L88.1 164.3L89.2 154.4L91.1 150.8L93.1 158.1L95.2 170.3L97.2 170.8L99.1 172.4L100.9 158.6L103.0 170.3L105.0 144.9L106.1 144.9L108.2 152.7L111.8 152.7L114.1 150.8L116.0 158.1L117.8 168.5L119.9 158.6L121.7 156.8L123.2 158.6L124.8 155.0L126.9 166.4L129.0 148.7L130.8 145.1L133.1 142.7L135.2 149.2L137.1 152.4L139.1 152.7L140.2 171.6L142.3 192.4L144.0 208.0L145.9 217.7L147.7 221.5L150.0 229.3L152.0 224.1L153.9 207.5L155.8 217.4L157.9 195.5L159.4 207.5L161.2 223.6L163.1 219.4L165.0 235.6L166.9 243.1L169.0 241.1L170.9 244.9L173.1 244.9L175.2 247.0L176.2 264.6L177.9 256.4L179.9 276.0L183.8 281.9L186.1 268.5L187.9 281.9L190.0 280.8L192.2 290.1L193.3 312.1L195.0 320.8L196.9 337.4L198.9 315.8L200.8 325.1L202.8 351.0L204.7 357.1L206.9 357.1L208.6 374.8L209.9 396.4L211.9 389.9L216.0 368.7L217.9 385.6L220.1 408.3L222.0 418.0L224.0 439.2L225.9 437.9L227.0 439.6L228.9 473.1L230.9 445.0L232.8 445.0L234.8 433.1L236.9 457.3L239.1 427.7L241.0 442.8L243.0 426.6L244.9 421.9L246.0 455.4L247.9 428.8L252.0 403.5L254.2 405.5L256.2 415.8L258.1 429.9L260.0 432.0L262.0 423.8L263.3 446.1L265.0 488.2L267.0 481.7L268.9 466.6L271.5 456.9L273.7 447.2L277.3 429.9L278.8 403.9L280.6 403.9L283.8 395.9L286.0 402.2L287.9 402.2L289.9 388.4L292.0 391.0L294.0 390.3L295.7 429.9L297.2 403.9L298.9 421.2L302.8 402.2L304.8 429.9L306.7 426.2L308.9 429.2L310.8 409.8L312.8 421.9L313.8 425.5L315.8 456.9L317.7 451.5L319.9 450.4L322.1 437.4L324.0 433.1L325.9 432.7L327.9 410.4L330.1 390.3L331.6 391.0L332.9 382.3L334.8 383.8L337.0 388.2L338.9 403.9L340.9 413.7L342.8 410.0L345.0 415.8L347.1 418.0L349.1 412.6L350.1 389.9L352.1 389.9L354.0 398.5L356.0 403.9L357.9 404.6L359.9 407.8L361.8 398.1L364.0 403.9L365.9 413.7L367.4 420.1L369.2 421.9L370.9 474.8L372.8 435.3L375.0 435.3L376.9 458.0L378.9 484.5L380.8 473.1L383.0 454.7L384.1 496.9L386.0 497.9L388.0 487.1L390.1 480.6L391.8 453.2L394.0 460.1L396.2 465.1L398.1 476.3L399.8 470.3L401.1 492.5L403.1 497.9L405.2 499.7L407.4 485.0L408.9 439.2L411.2 474.0L412.7 464.7L414.9 510.3L416.8 518.3L418.8 523.7L420.1 502.1L421.8 516.1L423.7 519.8L425.9 521.9L427.8 529.5L429.8 520.4L431.9 515.7L433.9 528.0L435.8 553.5L436.9 574.9L438.8 559.3L440.8 560.8L442.9 564.7L444.9 564.7L446.8 556.7L448.8 558.9L450.7 579.8L452.7 588.5L454.0 580.9L455.9 600.3L457.9 598.8L459.8 597.1L461.7 600.3L463.9 623.7L465.8 590.6L467.8 590.6L469.9 602.1L472.1 593.9L474.9 566.9L476.9 590.6L479.0 621.9L481.0 605.7L482.9 594.9L484.8 553.3L486.8 560.8L487.9 587.0L489.8 592.4L491.8 582.0L493.9 566.9L495.9 569.0L498.0 555.4L500.0 562.5L501.9 564.7L503.9 551.1L505.8 557.1L506.9 571.2L509.0 569.0L511.0 559.3L513.1 551.1L515.1 549.6L517.0 557.1L519.2 557.1L520.7 529.7L522.4 543.1L523.9 523.7L525.5 541.0L527.6 527.3L529.6 538.4L531.5 548.9L533.7 556.1L535.8 565.8L537.5 566.9L539.3 579.4L541.0 598.8L542.9 597.1L544.9 574.9L546.8 582.4L548.8 585.2L550.9 576.6L553.1 566.9L554.8 572.9L558.1 551.1L559.8 557.1L561.7 551.1L563.9 539.2L565.8 537.3L567.8 533.4L569.9 545.3L571.9 541.4L573.8 531.7L575.1 535.1L577.1 527.3L579.0 549.6L581.0 553.3L582.7 577.0L584.8 576.6L586.8 568.6L588.7 584.6L590.7 587.4L592.6 594.5L593.9 590.6L595.9 594.5L597.8 604.2L599.8 606.2L601.9 607.9L603.9 613.3L606.0 626.3L608.0 615.9L609.9 623.7L612.1 625.2L613.1 627.3L614.9 633.8L616.8 627.8L619.0 635.6L620.9 628.4L622.9 616.1L624.8 604.7L626.7 602.5L627.8 604.0L630.0 592.1L632.1 594.5L633.9 606.2L636.0 578.7L638.0 595.4L640.1 610.1L641.9 649.6L643.8 647.9L644.9 641.4L646.8 643.1L648.8 673.1L650.9 668.8L652.9 665.1L654.8 659.3L656.8 646.8L658.9 623.7L660.7 633.8L662.4 643.5L664.3 672.7L665.8 718.1L667.8 714.1L669.6 706.3L672.0 706.3L674.1 729.8L675.8 767.4L677.9 737.6L679.9 777.3L683.0 753.7L685.0 758.9L687.0 761.1L689.1 766.7L691.1 769.0L692.9 725.7L694.9 734.3L696.9 753.3L698.0 783.1L699.8 773.5L701.8 737.6L703.8 789.1L705.9 780.2L713.9 702.9L716.8 742.1L718.9 718.1L720.9 719.7L722.9 733.8L724.9 732.7L726.9 733.8L728.9 729.8L731.6 698.4L734.1 700.0L735.9 704.0L737.9 700.7L739.9 719.7L741.9 717.5L743.7 708.5L746.0 741.0L748.0 743.9L748.9 765.6L750.9 785.3L752.9 790.7L754.9 841.8L756.9 865.3L759.0 892.2L760.9 900.0L763.0 911.6L765.1 956.1L767.9 913.9L769.7 944.1L771.8 925.5L773.9 950.3L775.7 928.5L777.8 890.3L779.9 900.0L782.0 892.6L784.1 912.8L786.0 889.6L789.0 873.3L790.6 872.2L792.9 865.2L795.0 876.8L797.1 871.0L799.2 857.1L800.6 862.9L802.0 845.0L803.6 855.5L805.7 841.3L807.8 844.4L809.8 881.5L811.9 870.6L814.0 859.4L816.1 837.4L818.0 831.1L818.9 865.9L821.0 895.4L823.1 884.9L824.9 884.9L827.0 906.3L828.9 913.9L830.9 938.3L833.0 936.0L834.9 930.9L837.0 921.6L840.0 904.7L842.1 916.3L844.2 942.9L846.0 967.7L848.3 967.7L850.2 953.4L852.7 1003.2L854.8 1020.6L856.9 980.7L858.8 999.3L860.9 983.1L863.0 1012.5L865.0 992.8L866.9 1008.6L869.0 1004.4L872.0 945.2L874.1 953.4L875.9 959.2L877.8 1017.1L879.9 1005.6L882.0 996.7L884.1 1007.9L886.1 1002.1L888.0 1000.4L888.9 1073.5L890.6 1075.1L892.9 1093.7L894.7 1061.2L896.8 1049.6L898.9 1065.4L901.0 1087.4L903.1 1038.0L904.5 1021.8L905.9 991.6L907.9 988.6L909.8 1032.2L911.9 1043.8L914.0 1043.8L916.1 1058.2L917.9 1038.0L920.0 994.4L921.9 1010.9L923.0 969.6L925.1 961.0L927.0 980.7L929.1 997.4L931.1 995.8L933.0 961.0L935.1 983.5L936.9 991.2L939.0 975.4L940.9 983.5L942.0 1003.2L944.1 980.7L946.0 993.3L948.1 975.9L949.9 967.3L952.0 981.2L953.9 971.2L956.0 992.8L958.0 1010.9L961.1 967.3L963.4 968.0L965.2 963.8L966.9 967.7L968.9 941.3L970.8 949.9L973.1 933.6L974.7 944.1L976.1 917.4L978.0 904.7L980.1 908.1L982.2 902.3L984.0 880.8L986.1 886.8L988.0 885.4L990.1 896.5L992.1 907.0L994.2 890.7L997.0 888.4L999.1 894.7L1001.2 897.0L1005.1 869.2L1007.2 884.9L1008.1 874.5L1010.0 887.3L1012.0 880.9L1013.9 863.5L1015.8 861.2L1017.8 838.0L1019.9 834.1L1021.8 834.1L1023.9 810.2L1026.0 809.7L1028.1 804.4L1029.0 825.2L1031.1 842.2L1032.9 834.1L1035.0 857.3L1037.1 847.7L1038.0 849.6L1040.8 869.3L1042.9 861.7L1045.0 867.7L1047.1 877.0L1048.9 879.3L1050.1 877.4L1051.9 893.2L1054.0 890.9L1056.1 885.1L1058.0 908.8L1060.1 887.2L1062.2 874.7L1063.1 881.6L1064.9 864.7L1067.0 851.5L1069.1 851.5L1071.0 877.0L1073.1 865.4L1075.2 886.7L1077.0 905.3L1078.4 913.4L1079.6 912.3L1081.6 920.4L1083.7 916.9L1085.8 914.1L1087.9 912.7L1089.8 930.8L1091.6 963.8L1093.0 971.4L1094.4 973.0L1095.8 966.8L1097.0 1017.1L1098.4 999.3L1100.4 992.3L1103.0 978.8L1104.8 1012.7L1106.9 1011.3L1109.0 1006.9L1110.9 1018.3L1113.0 994.6L1115.1 1002.3L1116.2 1030.1L1118.1 1028.7L1119.9 1051.0L1122.0 1051.5L1124.1 1056.1L1126.2 1012.0L1128.1 988.8L1130.1 952.9L1132.0 937.8L1132.9 943.6L1135.0 927.8L1136.9 933.1L1139.0 934.3L1141.0 969.8L1143.1 972.1L1145.2 979.1L1147.1 963.3L1148.9 988.8L1150.1 967.5L1151.9 988.8L1154.0 1003.4L1156.1 1006.9L1158.0 981.2L1160.1 1003.9L1161.9 1022.5L1164.0 1002.7L1165.9 1030.6L1166.8 1024.1L1168.9 1032.2L1171.0 998.1L1173.1 989.3L1174.9 1009.2L1176.3 984.2L1179.1 957.5L1181.0 922.7L1182.8 880.9L1184.0 908.8L1186.1 926.2L1187.9 911.1L1190.0 898.8L1191.9 918.5L1193.9 893.0L1196.0 908.8L1198.1 884.9L1200.2 903.0L1202.1 923.4L1203.5 947.7L1205.3 947.7L1207.2 965.6L1209.0 987.2L1211.1 977.7L1213.0 973.7L1214.8 947.5L1216.9 967.5L1219.0 959.8L1219.9 926.2L1222.0 962.1L1223.9 959.4L1226.0 947.7L1227.8 951.7L1230.1 939.6L1232.0 949.4L1234.1 962.1L1235.9 973.3L1237.8 928.0L1239.0 898.8L1241.0 924.3L1242.9 914.6L1245.0 923.9L1246.8 923.4L1248.9 944.3L1251.0 920.4L1252.9 911.1L1254.0 880.9L1256.1 887.2L1258.0 889.0L1260.1 873.3L1261.9 871.6L1264.0 856.6L1265.9 839.9L1268.0 849.6L1269.8 875.1L1271.0 855.4L1273.1 849.6L1274.9 846.1L1277.0 867.0L1279.1 851.5L1281.0 843.8L1283.0 847.3L1286.8 828.0L1288.6 839.9L1289.3 849.6L1290.9 837.9L1292.0 845.3L1294.1 822.1L1296.0 816.3L1298.1 812.2L1300.2 813.5L1302.0 815.6L1304.1 818.0L1306.0 816.3L1306.9 800.6L1309.0 806.4L1310.8 794.3L1312.9 792.7L1315.0 782.0L1316.9 778.1L1319.0 768.8L1321.0 779.2L1323.8 798.9L1325.9 800.8L1327.8 805.9L1329.9 808.2L1331.7 806.6L1333.8 808.2L1335.7 785.0L1337.7 774.6L1339.6 771.1L1341.7 773.4L1343.5 772.9L1344.7 768.8L1346.8 753.2L1348.9 769.2L1350.7 749.5L1352.8 749.5L1354.7 757.2L1356.8 755.3L1358.6 746.7L1359.8 735.6L1362.1 735.6L1364.0 749.5L1366.1 727.7L1367.9 755.3L1370.0 771.1L1371.9 782.7L1373.7 780.8L1375.8 749.5L1378.6 790.8L1380.9 775.3L1383.0 791.5L1384.8 808.9L1386.9 789.0L1388.8 802.4L1390.9 789.0L1393.0 808.7L1394.8 805.9L1397.1 807.1L1399.0 808.7L1400.2 808.7L1402.3 782.0L1404.1 771.1L1406.2 768.8L1408.3 771.1L1409.9 767.1L1410.8 737.4L1412.9 759.5L1414.8 773.4L1416.9 779.2L1419.0 765.3L1421.0 773.4L1423.1 792.7L1425.0 802.9L1427.1 806.6L1428.2 778.7L1430.1 790.8L1431.9 739.8L1434.0 729.8L1435.9 672.9L1438.0 662.7L1440.1 688.7L1441.9 710.3L1444.0 703.8L1447.3 690.6L1449.1 708.4L1451.2 701.5L1453.1 677.1L1454.9 672.9L1457.0 685.2L1458.9 704.5L1461.0 711.9L1462.8 719.6L1464.7 745.6L1466.1 764.1L1467.9 775.0L1470.0 779.2L1471.9 774.6L1473.9 753.2L1476.0 753.2L1477.9 765.3L1480.0 747.2L1481.1 743.9L1483.0 729.8L1485.1 751.4L1487.2 735.6L1491.1 706.6L1493.0 721.9L1495.1 707.3L1496.9 692.7L1497.8 704.5L1499.7 686.9L1501.8 684.8L1503.9 707.3L1505.7 720.0L1507.8 702.2L1509.7 707.7L1512.0 708.4L1513.9 710.3L1515.0 702.2L1516.9 703.8L1519.0 696.4L1520.8 714.2L1522.9 720.0L1524.8 695.0L1526.8 694.5L1528.9 695.0L1530.8 706.1L1534.0 676.0L1536.1 674.8L1538.0 692.9L1539.8 696.8L1541.9 714.2L1544.0 667.1L1545.9 702.2L1548.0 763.7L1550.0 721.9L1552.8 771.1L1554.9 769.2L1556.8 790.8L1558.9 814.5L1561.0 836.1L1563.0 822.1L1564.7 816.3L1566.1 804.7L1567.9 775.0L1569.3 797.8L1570.1 793.7L1572.1 869.4L1573.9 835.8L1575.9 873.2L1577.9 896.7L1579.9 916.8L1582.0 877.6L1584.9 829.9L1586.9 831.1L1588.9 829.5L1590.9 818.3L1592.7 808.7L1594.7 822.1L1596.7 807.8L1598.7 788.7L1600.8 808.2L1601.9 782.9L1603.9 819.4L1605.9 840.7L1607.9 853.0L1609.9 874.3L1612.0 902.3L1614.0 928.7L1616.0 940.4L1617.8 935.9L1618.9 935.9L1620.9 961.6L1622.9 967.2L1624.9 959.8L1626.7 1007.1L1628.8 978.9L1630.8 1003.1L1632.8 1003.1L1634.8 965.0L1636.8 906.8L1637.9 883.2L1640.0 908.6L1641.7 897.8L1643.8 863.5L1646.0 863.5L1648.0 886.2L1650.0 908.6L1652.0 909.0L1654.1 910.1L1655.0 881.0L1657.0 928.0L1658.8 929.8L1660.8 932.5L1662.8 935.9L1664.8 977.3L1666.8 957.1L1668.8 926.2L1670.9 943.7L1672.0 965.7L1674.0 955.6L1676.0 967.2L1678.0 935.9L1680.0 939.9L1682.1 956.0L1684.1 971.7L1685.9 1008.7L1687.9 1001.9L1689.0 952.7L1691.0 947.7L1692.8 979.5L1694.8 957.8L1696.8 939.9L1698.8 947.1L1700.9 955.6L1702.9 910.8L1704.9 883.2L1708.0 928.0L1710.0 900.5L1712.1 877.2L1714.1 892.2L1716.1 906.8L1718.1 867.6L1720.1 870.5L1721.9 869.4L1723.9 885.0L1725.9 878.8L1727.1 885.0L1729.1 877.6L1731.1 851.9L1733.1 853.0L1734.9 851.9L1736.9 867.6L1738.9 861.5L1741.0 834.0L1742.1 814.5L1743.9 816.1L1745.9 823.5L1747.9 823.9L1749.9 826.1L1751.9 798.8L1753.7 799.7L1755.7 798.6L1757.7 800.4L1759.1 810.5L1760.9 807.1L1762.9 778.7L1764.9 776.9L1766.9 763.4L1768.9 766.1L1770.8 754.1L1772.9 745.7L1775.0 759.9L1775.9 740.6L1778.0 731.8L1780.1 753.4L1781.9 759.6L1784.0 736.0L1786.1 747.6L1787.9 749.4L1790.0 771.5L1791.9 756.2L1793.1 726.0L1794.9 734.1L1798.9 710.5L1800.7 716.3L1802.8 700.7L1804.7 707.0L1807.4 687.9L1809.3 682.6L1810.9 684.9L1812.1 692.6L1813.9 668.7L1815.8 670.3L1817.9 687.3L1819.7 683.3L1821.8 662.9L1823.9 662.9L1826.0 649.0L1828.1 696.5L1829.0 688.4L1831.1 690.7L1833.2 707.0L1835.0 720.4L1837.1 722.5L1839.0 726.2L1841.1 718.6L1842.9 715.8L1846.0 708.1L1847.8 730.2L1849.9 725.5L1851.8 726.7L1853.8 692.6L1855.9 710.5L1858.0 688.4L1859.9 700.7L1862.0 698.9L1862.9 668.7L1865.0 718.6L1867.1 718.6L1868.9 694.7L1871.0 701.2L1872.9 715.8L1874.7 706.3L1876.8 740.2L1878.9 723.7L1881.9 715.8L1884.0 728.5L1885.9 745.3L1887.9 763.4L1890.0 754.1L1891.9 747.1L1893.7 723.7L1895.8 708.1L1897.7 716.3L1899.8 702.3L1901.4 692.4L1902.8 690.7L1904.9 668.7L1906.7 663.6L1908.6 659.4L1910.9 643.2L1913.0 659.4L1914.9 648.3L1916.0 627.6L1917.9 620.0L1920.0 616.0L1921.8 624.1L1923.9 620.0L1925.8 614.2L1927.9 598.4L1929.7 608.4L1931.8 586.8L1934.4 596.3L1936.4 581.0L1938.5 584.0L1941.1 574.7L1942.9 584.7L1944.8 598.6L1946.9 614.2L1948.7 634.6L1949.9 653.6L1951.8 633.9L1953.8 629.7L1955.9 631.6L1958.0 646.2L1960.1 657.1L1962.0 665.2L1964.0 665.2L1965.9 659.9L1966.8 640.8L1968.9 637.4L1970.8 644.3L1972.9 655.5L1975.0 628.1L1977.0 604.2L1978.9 592.8L1981.0 574.7L1983.1 596.8L1984.9 566.6L1986.1 599.5L1988.2 611.8L1990.0 599.1L1991.9 580.5L1994.0 604.9L1995.8 620.0L1997.9 618.1L2000.2 616.0L2002.3 616.0L2004.2 614.2L2005.1 610.2L2007.2 596.3L2009.1 623.9L2011.1 630.4L2013.0 645.5L2016.9 608.4L2018.8 614.2L2020.0 613.0L2022.1 620.0L2023.9 614.9L2026.0 608.4L2028.1 608.4L2029.9 627.6L2032.0 645.5L2034.1 633.2L2036.0 629.7L2037.1 629.7L2039.2 639.2L2041.1 665.2L2042.9 675.0L2045.0 665.2L2046.9 662.9L2049.0 659.4L2051.1 664.7L2052.9 665.2L2054.3 688.4L2055.8 690.3L2057.9 710.8L2060.0 730.0L2061.8 726.3L2063.9 733.3L2066.0 734.0L2068.1 737.4L2069.9 721.2L2072.0 705.0L2072.9 684.1L2075.0 672.5L2076.9 665.1L2079.0 677.1L2081.1 695.2L2082.9 718.9L2085.0 727.7L2087.1 724.0L2089.0 729.3L2089.9 753.2L2092.0 740.2L2093.8 749.5L2095.9 783.4L2098.0 790.8L2099.9 792.4L2101.9 779.2L2103.8 782.7L2105.9 800.1L2107.1 798.9L2108.9 814.0L2111.0 816.3L2113.1 801.3L2114.9 796.6L2117.0 803.6L2119.1 818.7L2121.0 833.7L2122.1 850.0L2124.0 889.0L2125.8 881.3L2127.7 847.7L2130.0 840.0L2132.1 853.5L2134.0 847.2L2136.1 830.3L2138.1 851.1L2140.0 867.8L2141.2 894.1L2143.0 910.3L2144.9 898.0L2147.0 883.2L2149.0 891.3L2150.9 892.9L2153.0 872.0L2154.8 870.9L2156.9 912.6L2158.8 898.2L2160.2 894.8L2161.8 895.2L2164.1 876.7L2166.2 869.2L2168.1 875.0L2170.2 859.3L2171.8 863.9L2173.9 836.1L2176.0 841.9L2177.8 843.7L2179.7 846.5L2180.8 843.7L2182.9 861.6L2185.0 851.6L2186.9 865.5L2189.0 833.7L2191.0 827.9L2192.9 834.4L2195.9 797.8L2198.0 792.4L2200.1 794.3L2201.9 805.2L2204.0 808.7L2206.1 821.0L2208.0 835.6L2210.1 851.6L2211.0 872.7L2213.1 892.9L2214.9 910.3L2216.8 892.9L2218.9 867.4L2221.0 861.6L2223.3 858.1L2224.9 836.1L2227.0 837.9L2229.3 832.1L2231.4 833.3L2233.3 835.6L2234.4 837.9L2236.3 825.6L2238.1 853.5L2240.0 841.9L2242.0 831.4L2244.0 824.6L2246.1 831.7L2247.0 816.4L2249.1 835.7L2251.0 822.5L2253.0 845.9L2254.9 821.5L2257.0 794.7L2259.0 803.9L2261.0 796.7L2262.9 819.8L2264.0 816.4L2265.9 835.7L2268.0 849.7L2270.0 851.8L2272.0 841.6L2273.9 830.3L2276.0 828.0L2278.0 834.1L2279.9 826.6L2280.9 790.6L2282.9 796.0L2285.0 804.2L2287.0 784.5L2288.9 778.6L2290.8 790.6L2293.0 810.3L2295.0 829.7L2297.1 845.9L2298.6 859.0L2299.6 868.8L2302.0 869.4L2304.0 872.8L2306.0 889.2L2308.1 877.2L2310.0 881.7L2312.0 910.6L2314.1 890.9L2315.0 837.9L2317.0 835.7L2318.9 818.5L2321.0 822.3L2322.9 812.3L2325.2 812.3L2327.2 818.2L2329.3 810.3L2331.2 802.8L2333.9 814.4L2335.9 814.4L2338.0 800.4L2339.9 804.2L2341.9 811.7L2343.0 828.0L2344.0 842.0L2346.0 841.6L2347.9 839.8L2349.8 841.6L2350.9 857.6L2352.9 871.5L2355.0 879.4L2356.9 881.0L2358.9 857.9L2361.0 845.7L2363.0 847.7L2364.9 847.7L2367.9 833.8L2369.9 839.9L2372.0 839.9L2374.0 839.9L2375.9 835.7L2378.0 837.5L2380.0 842.9L2382.0 857.5L2383.9 871.5L2384.9 869.9L2386.9 847.7L2389.0 857.5L2391.1 857.6" stroke="#2962ff" stroke-width="1.9" fill="none" stroke-linejoin="round" stroke-linecap="round"/>
<circle cx="2391.4" cy="858.5" r="2.6" fill="#2962ff"/>
<rect x="10.2" y="27.2" width="2454.8" height="1187.8" fill="none" stroke="#efeff1" stroke-width="1.7"/>
<text x="2420" y="98.8" textLength="35.8" lengthAdjust="spacingAndGlyphs">0.5820</text>
<text x="2420" y="137.8" textLength="35.8" lengthAdjust="spacingAndGlyphs">0.5800</text>
<text x="2420" y="176.8" textLength="35.8" lengthAdjust="spacingAndGlyphs">0.5780</text>
<text x="2420" y="216.8" textLength="35.8" lengthAdjust="spacingAndGlyphs">0.5760</text>
<text x="2420" y="255.8" textLength="35.8" lengthAdjust="spacingAndGlyphs">0.5740</text>
<text x="2420" y="294.8" textLength="35.8" lengthAdjust="spacingAndGlyphs">0.5720</text>
<text x="2420" y="334.8" textLength="35.8" lengthAdjust="spacingAndGlyphs">0.5700</text>
<text x="2420" y="373.8" textLength="35.8" lengthAdjust="spacingAndGlyphs">0.5680</text>
<text x="2420" y="412.8" textLength="35.8" lengthAdjust="spacingAndGlyphs">0.5660</text>
<text x="2420" y="451.8" textLength="35.8" lengthAdjust="spacingAndGlyphs">0.5640</text>
<text x="2420" y="491.8" textLength="35.8" lengthAdjust="spacingAndGlyphs">0.5620</text>
<text x="2420" y="530.8" textLength="35.8" lengthAdjust="spacingAndGlyphs">0.5600</text>
<text x="2420" y="569.8" textLength="35.8" lengthAdjust="spacingAndGlyphs">0.5580</text>
<text x="2420" y="608.8" textLength="35.8" lengthAdjust="spacingAndGlyphs">0.5560</text>
<text x="2420" y="648.8" textLength="35.8" lengthAdjust="spacingAndGlyphs">0.5540</text>
<text x="2420" y="687.8" textLength="35.8" lengthAdjust="spacingAndGlyphs">0.5520</text>
<text x="2420" y="726.8" textLength="35.8" lengthAdjust="spacingAndGlyphs">0.5500</text>
<text x="2420" y="765.8" textLength="35.8" lengthAdjust="spacingAndGlyphs">0.5480</text>
<text x="2420" y="805.8" textLength="35.8" lengthAdjust="spacingAndGlyphs">0.5460</text>
<text x="2420" y="844.8" textLength="35.8" lengthAdjust="spacingAndGlyphs">0.5440</text>
<text x="2420" y="883.8" textLength="35.8" lengthAdjust="spacingAndGlyphs">0.5420</text>
<text x="2420" y="922.8" textLength="35.8" lengthAdjust="spacingAndGlyphs">0.5400</text>
<text x="2420" y="962.8" textLength="35.8" lengthAdjust="spacingAndGlyphs">0.5380</text>
<text x="2420" y="1001.8" textLength="35.8" lengthAdjust="spacingAndGlyphs">0.5360</text>
<text x="2420" y="1040.8" textLength="35.8" lengthAdjust="spacingAndGlyphs">0.5340</text>
<text x="2420" y="1080.8" textLength="35.8" lengthAdjust="spacingAndGlyphs">0.5320</text>
<text x="2420" y="1119.8" textLength="35.8" lengthAdjust="spacingAndGlyphs">0.5300</text>
<text x="2420" y="1158.8" textLength="35.8" lengthAdjust="spacingAndGlyphs">0.5280</text>
<rect x="2415.5" y="31.5" width="45.5" height="25.5" rx="4" fill="#fff" stroke="#eceef1" stroke-width="1.2"/>
<text x="2438.3" y="48" font-size="11" text-anchor="middle" textLength="27.5" lengthAdjust="spacingAndGlyphs">USDT</text>
<path d="M2412 850H2459a2 2 0 0 1 2 2V878.8a2 2 0 0 1 -2 2H2412Z" fill="#2962ff"/>
<text x="2419.8" y="863" fill="#fff" class="w" font-weight="bold" textLength="34.6" lengthAdjust="spacingAndGlyphs">0.5431</text>
<text x="2419.8" y="877" fill="#fff" class="w" fill-opacity="0.8" font-weight="bold" textLength="29.4" lengthAdjust="spacingAndGlyphs">00:15</text>
<path d="M2412 1171.1H2455.9a2 2 0 0 1 2 2V1184.9a2 2 0 0 1 -2 2H2412Z" fill="#26a69a"/>
<text y="1183.8" fill="#fff" font-weight="bold" class="w"><tspan x="2419.9" textLength="24.2" lengthAdjust="spacingAndGlyphs">4.79</tspan> <tspan x="2445.6" textLength="6.6" lengthAdjust="spacingAndGlyphs">K</tspan></text>
<circle cx="2391.6" cy="1174.4" r="11.8" fill="#fff" fill-opacity="0.85"/>
<circle cx="2391.6" cy="1174.4" r="9.8" fill="#fff" stroke="#9c27b0" stroke-width="1.4"/>
<path d="M2394.7 1169.1L2387.4 1174.8L2391.6 1175.2L2388.2 1179.9L2395.7 1174.2L2391.2 1173.8Z" fill="#9c27b0" stroke="#9c27b0" stroke-width="0.5" stroke-linejoin="round"/>
<clipPath id="c"><rect x="10.5" y="1188" width="2454.5" height="26"/></clipPath>
<g clip-path="url(#c)" text-anchor="middle">
<text x="10.0" y="1205" textLength="29.5" lengthAdjust="spacingAndGlyphs">05:30</text>
<text x="67.0" y="1205" textLength="29.5" lengthAdjust="spacingAndGlyphs">06:00</text>
<text x="123.0" y="1205" textLength="29.5" lengthAdjust="spacingAndGlyphs">06:30</text>
<text x="180.0" y="1205" textLength="29.5" lengthAdjust="spacingAndGlyphs">07:00</text>
<text x="237.0" y="1205" textLength="29.5" lengthAdjust="spacingAndGlyphs">07:30</text>
<text x="294.0" y="1205" textLength="29.5" lengthAdjust="spacingAndGlyphs">08:00</text>
<text x="350.0" y="1205" textLength="29.5" lengthAdjust="spacingAndGlyphs">08:30</text>
<text x="407.0" y="1205" textLength="29.5" lengthAdjust="spacingAndGlyphs">09:00</text>
<text x="464.0" y="1205" textLength="29.5" lengthAdjust="spacingAndGlyphs">09:30</text>
<text x="521.0" y="1205" textLength="29.5" lengthAdjust="spacingAndGlyphs">10:00</text>
<text x="577.0" y="1205" textLength="29.5" lengthAdjust="spacingAndGlyphs">10:30</text>
<text x="634.0" y="1205" textLength="29.5" lengthAdjust="spacingAndGlyphs">11:00</text>
<text x="691.0" y="1205" textLength="29.5" lengthAdjust="spacingAndGlyphs">11:30</text>
<text x="747.0" y="1205" textLength="29.5" lengthAdjust="spacingAndGlyphs">12:00</text>
<text x="804.0" y="1205" textLength="29.5" lengthAdjust="spacingAndGlyphs">12:30</text>
<text x="861.0" y="1205" textLength="29.5" lengthAdjust="spacingAndGlyphs">13:00</text>
<text x="918.0" y="1205" textLength="29.5" lengthAdjust="spacingAndGlyphs">13:30</text>
<text x="974.0" y="1205" textLength="29.5" lengthAdjust="spacingAndGlyphs">14:00</text>
<text x="1031.0" y="1205" textLength="29.5" lengthAdjust="spacingAndGlyphs">14:30</text>
<text x="1088.0" y="1205" textLength="29.5" lengthAdjust="spacingAndGlyphs">15:00</text>
<text x="1145.0" y="1205" textLength="29.5" lengthAdjust="spacingAndGlyphs">15:30</text>
<text x="1201.0" y="1205" textLength="29.5" lengthAdjust="spacingAndGlyphs">16:00</text>
<text x="1258.0" y="1205" textLength="29.5" lengthAdjust="spacingAndGlyphs">16:30</text>
<text x="1315.0" y="1205" textLength="29.5" lengthAdjust="spacingAndGlyphs">17:00</text>
<text x="1372.0" y="1205" textLength="29.5" lengthAdjust="spacingAndGlyphs">17:30</text>
<text x="1428.0" y="1205" textLength="29.5" lengthAdjust="spacingAndGlyphs">18:00</text>
<text x="1485.0" y="1205" textLength="29.5" lengthAdjust="spacingAndGlyphs">18:30</text>
<text x="1542.0" y="1205" textLength="29.5" lengthAdjust="spacingAndGlyphs">19:00</text>
<text x="1599.0" y="1205" textLength="29.5" lengthAdjust="spacingAndGlyphs">19:30</text>
<text x="1655.0" y="1205" textLength="29.5" lengthAdjust="spacingAndGlyphs">20:00</text>
<text x="1712.0" y="1205" textLength="29.5" lengthAdjust="spacingAndGlyphs">20:30</text>
<text x="1769.0" y="1205" textLength="29.5" lengthAdjust="spacingAndGlyphs">21:00</text>
<text x="1826.0" y="1205" textLength="29.5" lengthAdjust="spacingAndGlyphs">21:30</text>
<text x="1882.0" y="1205" textLength="29.5" lengthAdjust="spacingAndGlyphs">22:00</text>
<text x="1939.0" y="1205" textLength="29.5" lengthAdjust="spacingAndGlyphs">22:30</text>
<text x="1996.0" y="1205" textLength="29.5" lengthAdjust="spacingAndGlyphs">23:00</text>
<text x="2053.0" y="1205" textLength="29.5" lengthAdjust="spacingAndGlyphs">23:30</text>
<text x="2109.0" y="1205" font-weight="bold">16</text>
<text x="2166.0" y="1205" textLength="29.5" lengthAdjust="spacingAndGlyphs">00:30</text>
<text x="2223.0" y="1205" textLength="29.5" lengthAdjust="spacingAndGlyphs">01:00</text>
<text x="2279.0" y="1205" textLength="29.5" lengthAdjust="spacingAndGlyphs">01:30</text>
<text x="2336.0" y="1205" textLength="29.5" lengthAdjust="spacingAndGlyphs">02:00</text>
<text x="2393.0" y="1205" textLength="29.5" lengthAdjust="spacingAndGlyphs">02:30</text>
</g>
<text y="46.3"><tspan x="18.1" textLength="6.1" lengthAdjust="spacingAndGlyphs">S</tspan> <tspan x="28.6" textLength="4.0" lengthAdjust="spacingAndGlyphs">/</tspan> <tspan x="38.1" textLength="46.6" lengthAdjust="spacingAndGlyphs">TetherUS</tspan> <tspan x="88.8">·</tspan> <tspan x="96.6">1</tspan> <tspan x="106.9">·</tspan> <tspan x="115.7" textLength="45.1" lengthAdjust="spacingAndGlyphs">BINANCE</tspan></text>
<text x="168.4" y="46.3" fill="#2962ff" class="b" textLength="35.2" lengthAdjust="spacingAndGlyphs">0.5431</text>
<text y="46.3" fill="#2962ff" class="b"><tspan x="212.1" textLength="40.7" lengthAdjust="spacingAndGlyphs">+0.0001</tspan> <tspan x="258" textLength="44.6" lengthAdjust="spacingAndGlyphs">(+0.02%)</tspan></text>
<text y="63.3"><tspan x="18.2" textLength="15.7" lengthAdjust="spacingAndGlyphs">Vol</tspan> <tspan x="38.1">·</tspan> <tspan x="46" textLength="5.4" lengthAdjust="spacingAndGlyphs">S</tspan></text>
<text y="63.3" fill="#26a69a" class="t"><tspan x="58.8" textLength="22.0" lengthAdjust="spacingAndGlyphs">4.79</tspan> <tspan x="84" textLength="7.1" lengthAdjust="spacingAndGlyphs">K</tspan></text>
<path d="M10 1227.1H17.8V1236.7H13.6V1231H10Z M24 1227.1H29.7L25.9 1236.7H21.3Z" fill="#131722"/>
<circle cx="21" cy="1228.9" r="1.85" fill="#131722"/>
<text x="33.3" y="1236.7" font-size="13.5" textLength="70" lengthAdjust="spacingAndGlyphs">TradingView</text>
</svg>
</body></html>
